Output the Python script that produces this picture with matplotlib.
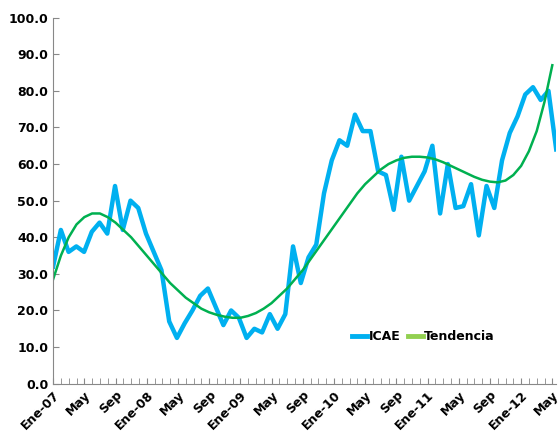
import numpy as np
import matplotlib.pyplot as plt

months = ["Ene", "Feb", "Mar", "Abr", "May", "Jun", "Jul", "Ago", "Sep", "Oct", "Nov", "Dic"]
icae = [32, 42, 36, 37.5, 36, 41.5, 44, 41, 54, 42, 50, 48,
        41, 36, 31, 17, 12.5, 16.5, 20, 24, 26, 21, 16, 20,
        18, 12.5, 15, 14, 19, 15, 19, 37.5, 27.5, 34.5, 38, 52,
        61, 66.5, 65, 73.5, 69, 69, 58, 57, 47.5, 62, 50, 54,
        58, 65, 46.5, 60, 48, 48.5, 54.5, 40.5, 54, 48, 61, 68.5,
        73, 79, 81, 77.5, 80, 64]
tendencia = [28.5, 35, 40, 43.5, 45.5, 46.5, 46.5, 45.5, 44, 42, 40, 37.5,
             35, 32.5, 30, 27.5, 25.5, 23.5, 22, 20.5, 19.5, 18.8, 18.3, 18,
             18, 18.5, 19.3, 20.5, 22, 24, 26, 28.5, 31, 34, 37, 40,
             43, 46, 49, 52, 54.5, 56.5, 58.5, 60, 61, 61.7, 62, 62,
             61.8, 61.3, 60.5, 59.5, 58.5, 57.5, 56.5, 55.7, 55.2, 55, 55.5, 57,
             59.5, 63.5, 69, 77, 87]

x_icae = np.linspace(0, 64.5, len(icae))
x_tend = np.arange(len(tendencia))

fig, ax = plt.subplots(figsize=(5.59, 4.41), dpi=100)
fig.subplots_adjust(left=0.095, right=0.995, top=0.96, bottom=0.13)
ax.plot(x_icae, icae, color="#00b0f0", lw=3.2, label="ICAE")
ax.plot(x_tend, tendencia, color="#00b050", lw=1.8, label="Tendencia")

ticks = list(range(0, 65, 4))
labels = [f"{months[t % 12]}-{7 + t // 12:02d}" if months[t % 12] == "Ene" else months[t % 12] for t in ticks]
ax.set_xticks(ticks)
ax.set_xticklabels(labels, rotation=45, ha="right", rotation_mode="anchor", fontweight="bold", fontsize=9)
ax.set_xticks(range(65), minor=True)
ax.set_xlim(0, 64.5)
ax.set_ylim(0, 100)
ax.set_yticks(np.arange(0, 101, 10))
ax.set_yticklabels([f"{v:.1f}" for v in np.arange(0, 101, 10)], fontweight="bold", fontsize=9)
for s in ["top", "right"]:
    ax.spines[s].set_visible(False)
for s in ["left", "bottom"]:
    ax.spines[s].set_color("#888888")
ax.tick_params(colors="#888888", labelcolor="black", direction="in", length=4)
ax.tick_params(which="minor", direction="in", length=4, colors="#888888")

h1, = ax.plot([], [], color="#00b0f0", lw=3.5)
h2, = ax.plot([], [], color="#92d050", lw=3.5)
leg = ax.legend([h1, h2], ["ICAE", "Tendencia"], loc="lower right", bbox_to_anchor=(0.9, 0.08),
                ncol=2, frameon=False, handlelength=1.2, handletextpad=0.1, columnspacing=0.6,
                prop={"weight": "bold", "size": 9})
fig.savefig("out.png")
